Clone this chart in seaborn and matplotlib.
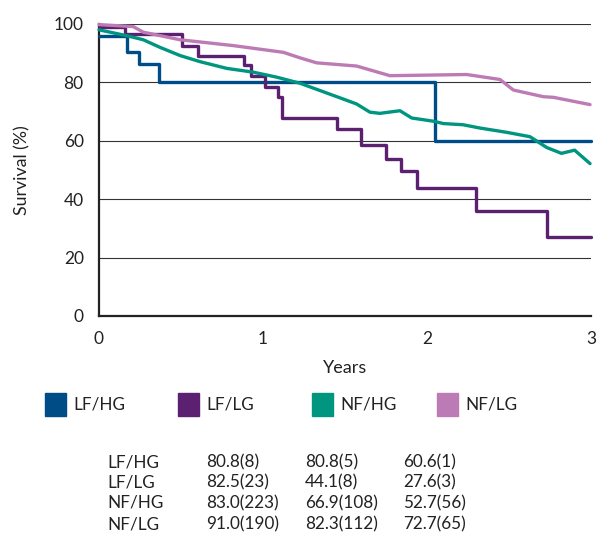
import matplotlib
matplotlib.use("Agg")
import matplotlib.pyplot as plt
import pandas as pd
import seaborn as sns
from matplotlib.patches import Rectangle

# Kaplan-Meier style curves
lfhg_t = [0.0, 0.17, 0.246, 0.368, 2.05, 3.0]
lfhg_s = [95.8, 90.3, 86.3, 80.2, 60.0, 60.0]

lflg_t = [0.0, 0.16, 0.504, 0.606, 0.884, 0.927, 1.012, 1.093, 1.118,
          1.453, 1.598, 1.75, 1.84, 1.937, 2.30, 2.73, 3.0]
lflg_s = [98.9, 96.6, 92.6, 89.2, 85.8, 82.3, 78.3, 75.1, 67.8,
          64.0, 58.7, 53.6, 49.7, 43.7, 35.8, 27.0, 27.0]

nfhg_t = [0.0, 0.169, 0.27, 0.372, 0.494, 0.616, 0.779, 0.941, 1.083, 1.226,
          1.348, 1.47, 1.571, 1.652, 1.713, 1.835, 1.907, 2.04, 2.1, 2.22,
          2.32, 2.486, 2.628, 2.73, 2.82, 2.9, 2.994]
nfhg_s = [98.0, 96.0, 94.6, 92.0, 89.2, 87.1, 84.8, 83.5, 81.8, 79.7,
          77.2, 74.7, 72.6, 69.8, 69.4, 70.3, 67.8, 66.7, 65.9, 65.5,
          64.4, 62.9, 61.4, 57.7, 55.7, 56.8, 52.2]

nflg_t = [0.0, 0.209, 0.27, 0.494, 0.819, 1.124, 1.226, 1.327, 1.571, 1.774,
          2.242, 2.445, 2.526, 2.709, 2.77, 2.994]
nflg_s = [99.8, 99.1, 97.2, 94.6, 92.6, 90.3, 88.4, 86.7, 85.6, 82.3,
          82.7, 81.0, 77.4, 75.1, 74.9, 72.4]

groups = ["LF/HG", "LF/LG", "NF/HG", "NF/LG"]
colors = ["#004C87", "#5B2070", "#00957F", "#BD7BB5"]

# survival table: rate (n at risk) at 1, 2, 3 years
col1 = ["80.8(8)", "82.5(23)", "83.0(223)", "91.0(190)"]
col2 = ["80.8(5)", "44.1(8)", "66.9(108)", "82.3(112)"]
col3 = ["60.6(1)", "27.6(3)", "52.7(56)", "72.7(65)"]

sns.set_style("white")
plt.rcParams["font.family"] = ["Lato", "DejaVu Sans"]
TXT = "#222222"

W, H = 598, 534
fig = plt.figure(figsize=(W / 100, H / 100), dpi=100)
ax = fig.add_axes([99 / W, 1 - 316 / H, (591 - 99) / W, (316 - 24) / H])

curves = [(lfhg_t, lfhg_s, True), (lflg_t, lflg_s, True),
          (nfhg_t, nfhg_s, False), (nflg_t, nflg_s, False)]
for (t, s, step), name, c in zip(curves, groups, colors):
    df = pd.DataFrame({"Years": t, "Survival": s})
    kw = {"drawstyle": "steps-post"} if step else {}
    sns.lineplot(data=df, x="Years", y="Survival", ax=ax, color=c,
                 linewidth=2.4, clip_on=False, zorder=3, **kw)

ax.set_xlim(0, 3)
ax.set_ylim(0, 100)
ax.set_xticks([0, 1, 2, 3])
ax.set_yticks([0, 20, 40, 60, 80, 100])
ax.yaxis.grid(True, color="#333333", linewidth=0.8)
ax.set_axisbelow(True)
for side in ["top", "right"]:
    ax.spines[side].set_visible(False)
for side in ["left", "bottom"]:
    ax.spines[side].set_color(TXT)
    ax.spines[side].set_linewidth(1.6)
ax.tick_params(length=0, labelsize=12.5, colors=TXT, pad=11)
ax.set_xlabel("Years", fontsize=13, color=TXT)
ax.set_ylabel("Survival (%)", fontsize=12.8, color=TXT)
ax.xaxis.set_label_coords(0.5, -44 / 292)
ax.yaxis.set_label_coords(-69 / 492, 0.5)

# legend row
sq_x = [45, 178, 312, 437]
for x, name, c in zip(sq_x, groups, colors):
    fig.patches.append(Rectangle((x / W, 1 - 416 / H), 21 / W, 23 / H,
                                 transform=fig.transFigure, color=c))
    fig.text((x + 28) / W, 1 - 405 / H, name, fontsize=12.3,
             color=TXT, va="center")

# table
rows_y = [462, 482, 503, 524]
for i, y in enumerate(rows_y):
    for x, txt in zip([107, 206, 305, 403], [groups[i], col1[i], col2[i], col3[i]]):
        fig.text(x / W, 1 - y / H, txt, fontsize=12.3, color=TXT,
                 va="center")

fig.savefig("out.png", dpi=100)
